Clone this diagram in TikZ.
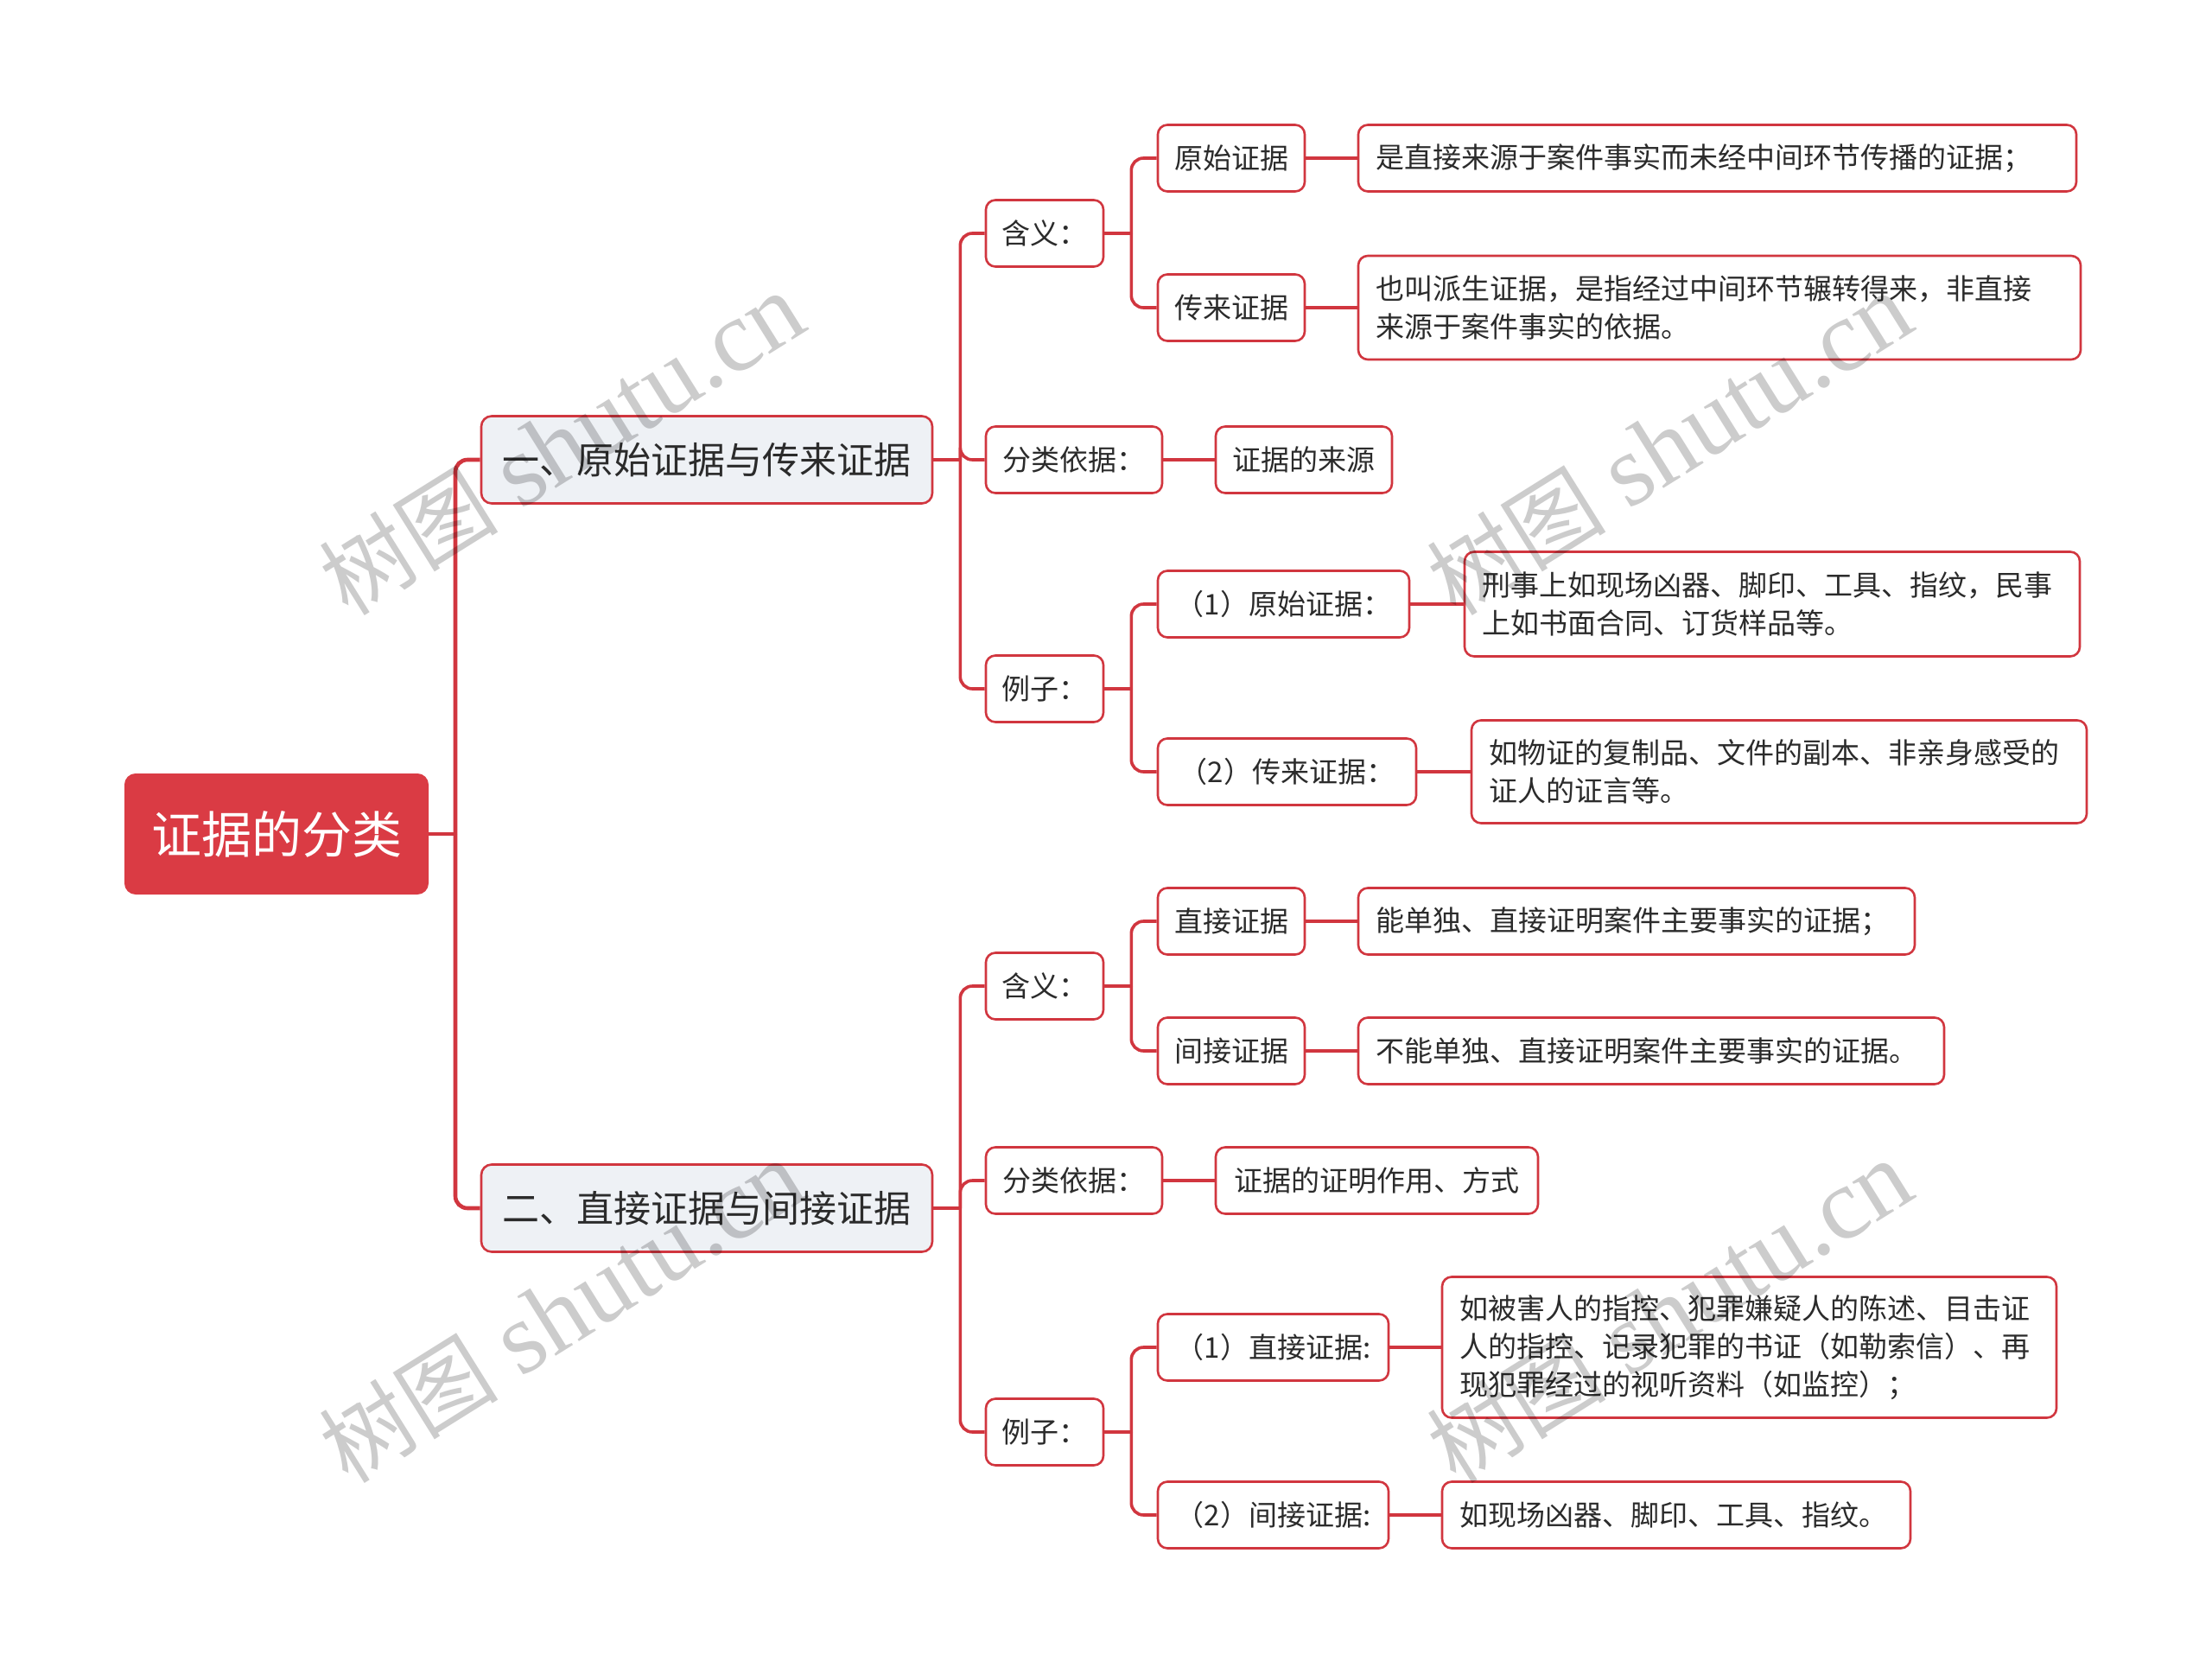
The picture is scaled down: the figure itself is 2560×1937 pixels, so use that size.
\documentclass[tikz,border=0pt]{standalone}
\usepackage{fontspec}
\setmainfont{Noto Sans CJK SC}
\newfontfamily\wmserif{Liberation Serif}
\definecolor{rootred}{HTML}{DA3B44}
\definecolor{linered}{HTML}{D1363F}
\definecolor{gfill}{HTML}{EEF1F5}
\definecolor{txt}{HTML}{2B2B2B}
\tikzset{
  rootbox/.style={draw=rootred, fill=rootred, rounded corners=12pt, text=white,
    font=\fontsize{58}{70}\selectfont, line width=2pt, inner sep=0pt},
  lonebox/.style={draw=linered, fill=gfill, rounded corners=12pt, text=txt,
    font=\fontsize{43}{52}\selectfont, line width=2.6pt, inner sep=0pt},
  sbox/.style={draw=linered, fill=white, rounded corners=11pt, text=txt,
    font=\fontsize{33}{44}\selectfont, line width=2.6pt, inner sep=0pt},
  mbox/.style={sbox, align=left, inner xsep=20pt, inner ysep=0pt},
  conn/.style={draw=linered, line width=3.6pt},
  rconn/.style={conn, rounded corners=14pt},
  wm/.style={text=black, opacity=0.2, rotate=32, font=\fontsize{118}{118}\selectfont}
}
\newcommand{\wmtext}{{\fontsize{104}{104}\selectfont 树图} {\wmserif shutu.cn}}
\begin{document}
\begin{tikzpicture}[x=1pt,y=-1pt]
\useasboundingbox (0,0) rectangle (2560,1937);
\fill[white] (0,0) rectangle (2560,1937);

% root and level 1
\node[rootbox, minimum width=350pt, minimum height=138pt] (root) at (320,965) {证据的分类};
\node[lonebox, minimum width=522pt, minimum height=101pt] (A) at (818,532) {一、原始证据与传来证据};
\node[lonebox, minimum width=522pt, minimum height=101pt] (B) at (818,1398) {二、直接证据与间接证据};

% A branch
\node[sbox, minimum width=136pt, minimum height=77pt] (a1) at (1209,270) {含义：};
\node[sbox, minimum width=204pt, minimum height=77pt] (a2) at (1243,532) {分类依据：};
\node[sbox, minimum width=136pt, minimum height=77pt] (a3) at (1209,797) {例子：};

\node[sbox, minimum width=170pt, minimum height=77pt] (a11) at (1425,183) {原始证据};
\node[sbox, minimum width=170pt, minimum height=77pt] (a12) at (1425,356) {传来证据};
\node[mbox, text width=791pt, minimum height=77pt] (a111) at (1987.5,183) {是直接来源于案件事实而未经中间环节传播的证据；};
\node[mbox, text width=796pt, minimum height=120pt] (a121) at (1990,356) {也叫派生证据，是指经过中间环节辗转得来，非直接\\来源于案件事实的依据。};

\node[sbox, minimum width=204pt, minimum height=77pt] (a21) at (1509,532) {证据的来源};

\node[sbox, minimum width=291pt, minimum height=77pt] (a31) at (1485.5,699) {（1）原始证据：};
\node[sbox, minimum width=299pt, minimum height=77pt] (a32) at (1489.5,893) {（2）传来证据：};
\node[mbox, text width=672pt, minimum height=121pt] (a311) at (2051,699) {刑事上如现场凶器、脚印、工具、指纹，民事\\上如书面合同、订货样品等。};
\node[mbox, text width=672pt, minimum height=119pt] (a321) at (2059,893) {如物证的复制品、文件的副本、非亲身感受的\\证人的证言等。};

% B branch
\node[sbox, minimum width=136pt, minimum height=77pt] (b1) at (1209,1141) {含义：};
\node[sbox, minimum width=204pt, minimum height=77pt] (b2) at (1243,1366) {分类依据：};
\node[sbox, minimum width=136pt, minimum height=77pt] (b3) at (1209,1657) {例子：};

\node[sbox, minimum width=170pt, minimum height=77pt] (b11) at (1425,1066) {直接证据};
\node[sbox, minimum width=170pt, minimum height=77pt] (b12) at (1425,1216) {间接证据};
\node[mbox, text width=604pt, minimum height=77pt] (b111) at (1894,1066) {能单独、直接证明案件主要事实的证据；};
\node[mbox, text width=638pt, minimum height=77pt] (b121) at (1911,1216) {不能单独、直接证明案件主要事实的证据。};

\node[sbox, minimum width=373pt, minimum height=77pt] (b21) at (1593.5,1366) {证据的证明作用、方式};

\node[sbox, minimum width=267pt, minimum height=77pt] (b31) at (1473.5,1559) {（1）直接证据:};
\node[sbox, minimum width=267pt, minimum height=77pt] (b32) at (1473.5,1753) {（2）间接证据:};
\node[mbox, text width=671pt, minimum height=163pt] (b311) at (2024.5,1559) {如被害人的指控、犯罪嫌疑人的陈述、目击证\\人的指控、记录犯罪的书证（如勒索信）、再\\现犯罪经过的视听资料（如监控）；};
\node[mbox, text width=502pt, minimum height=77pt] (b321) at (1940,1753) {如现场凶器、脚印、工具、指纹。};

% connectors
\draw[conn, line width=4.6pt] (root.east) -- ++(31,0) coordinate (rj);
\draw[rconn, line width=4.6pt] (rj) |- (A.west);
\draw[rconn, line width=4.6pt] (rj) |- (B.west);

\draw[conn] (A.east) -- ++(31,0) coordinate (Aj);
\draw[rconn] (Aj) |- (a1.west);
\draw[rconn] (Aj) |- (a2.west);
\draw[rconn] (Aj) |- (a3.west);

\draw[conn] (a1.east) -- ++(31,0) coordinate (a1j);
\draw[rconn] (a1j) |- (a11.west);
\draw[rconn] (a1j) |- (a12.west);
\draw[conn] (a11.east) -- (a111.west);
\draw[conn] (a12.east) -- (a121.west);
\draw[conn] (a2.east) -- (a21.west);
\draw[conn] (a3.east) -- ++(31,0) coordinate (a3j);
\draw[rconn] (a3j) |- (a31.west);
\draw[rconn] (a3j) |- (a32.west);
\draw[conn] (a31.east) -- (a311.west);
\draw[conn] (a32.east) -- (a321.west);

\draw[conn] (B.east) -- ++(31,0) coordinate (Bj);
\draw[rconn] (Bj) |- (b1.west);
\draw[rconn] (Bj) |- (b2.west);
\draw[rconn] (Bj) |- (b3.west);

\draw[conn] (b1.east) -- ++(31,0) coordinate (b1j);
\draw[rconn] (b1j) |- (b11.west);
\draw[rconn] (b1j) |- (b12.west);
\draw[conn] (b11.east) -- (b111.west);
\draw[conn] (b12.east) -- (b121.west);
\draw[conn] (b2.east) -- (b21.west);
\draw[conn] (b3.east) -- ++(31,0) coordinate (b3j);
\draw[rconn] (b3j) |- (b31.west);
\draw[rconn] (b3j) |- (b32.west);
\draw[conn] (b31.east) -- (b311.west);
\draw[conn] (b32.east) -- (b321.west);

% watermarks
\node[wm] (w1) at (650,514) {\wmtext};
\node[wm] (w2) at (1932,514) {\wmtext};
\node[wm] (w3) at (650,1518) {\wmtext};
\node[wm] (w4) at (1932,1518) {\wmtext};
\end{tikzpicture}
\end{document}
